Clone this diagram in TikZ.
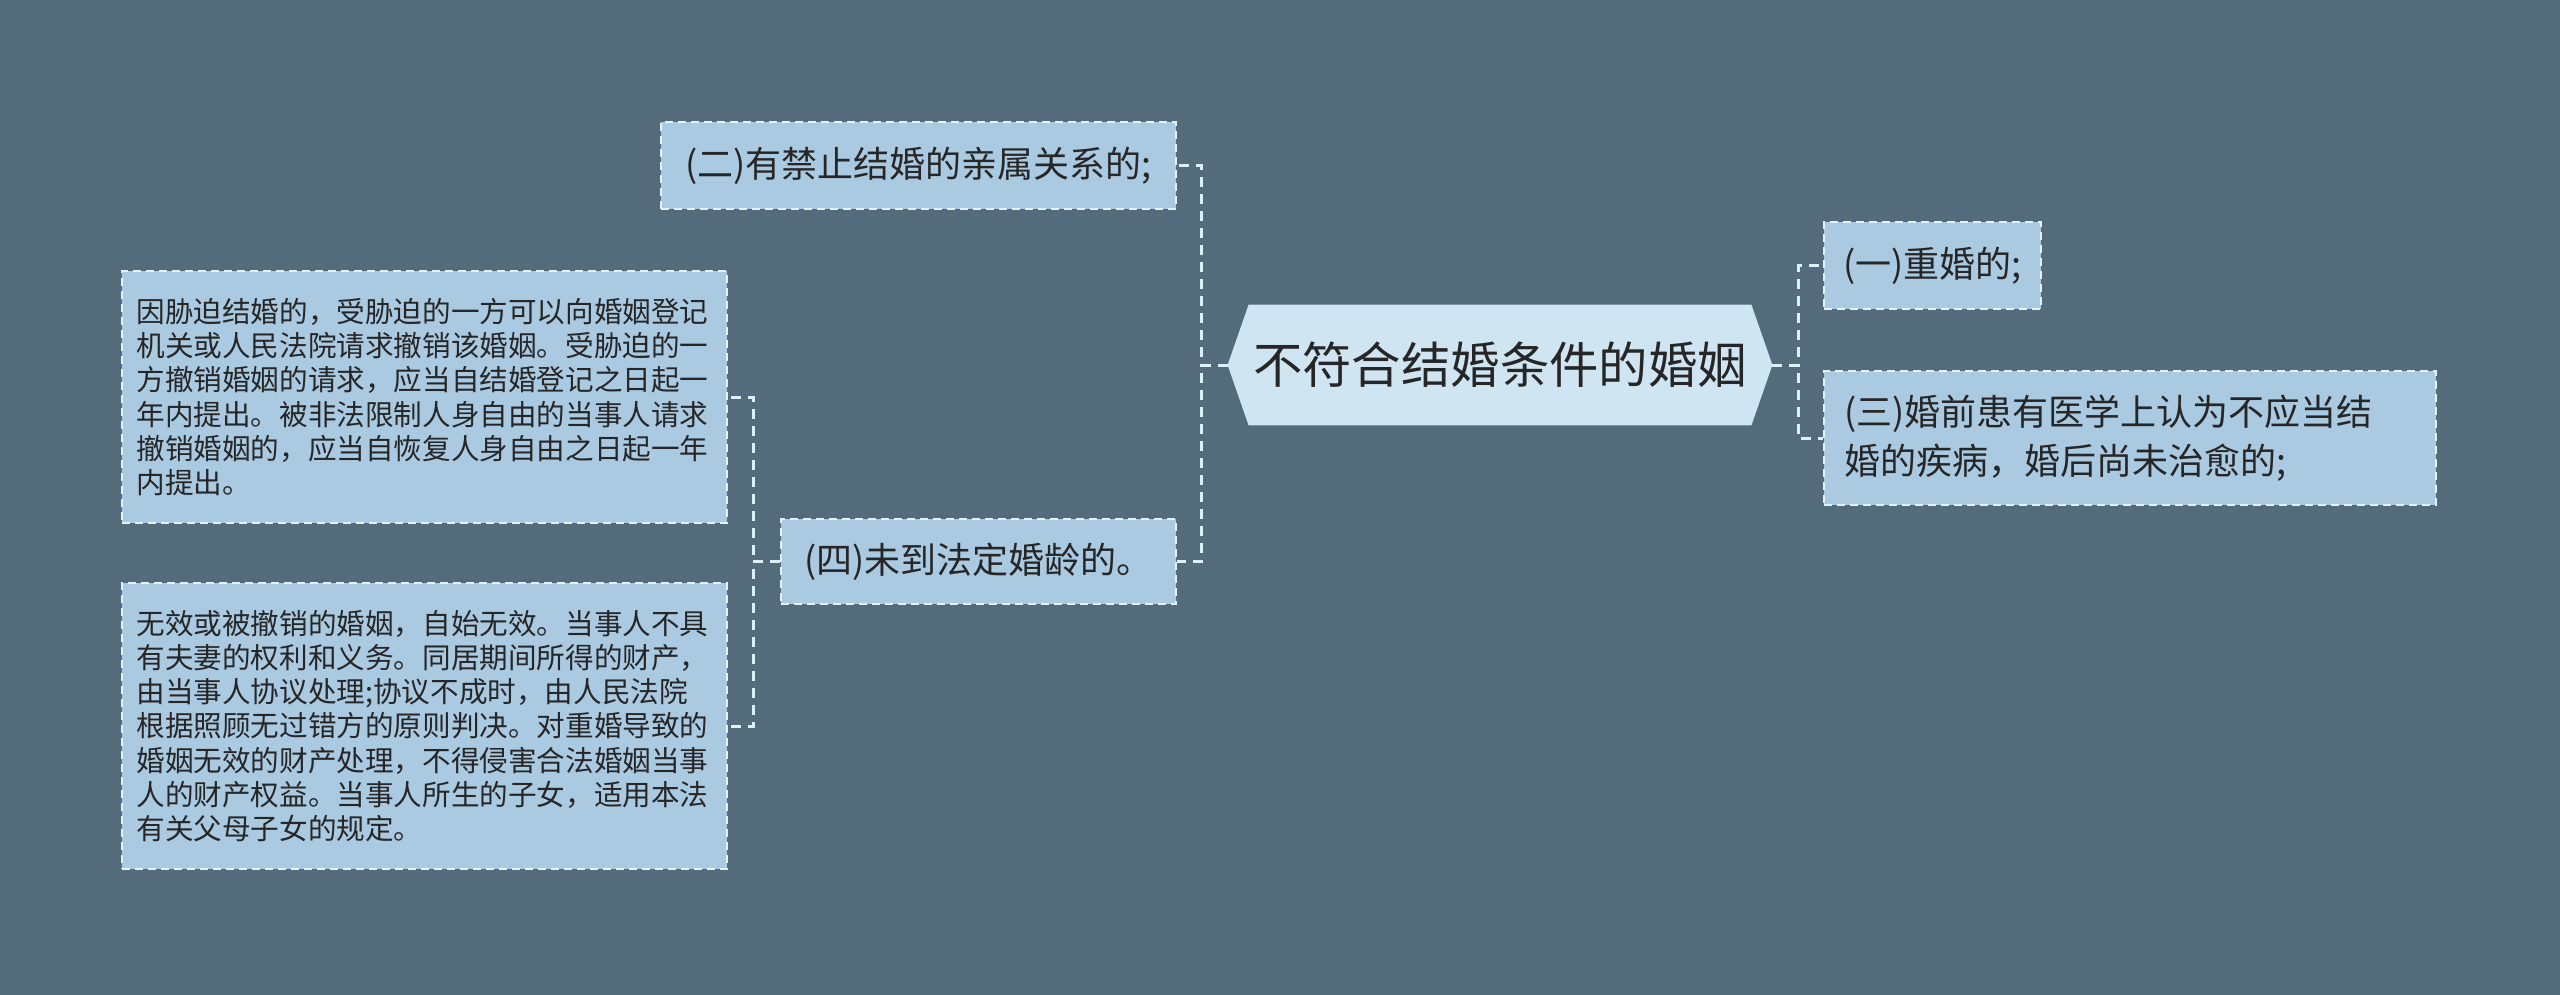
\documentclass[tikz,border=0pt]{standalone}
\usepackage{fontspec}
\setmainfont{Noto Sans CJK SC}
\usetikzlibrary{backgrounds}
\definecolor{bgcol}{HTML}{546B7C}
\definecolor{boxfill}{HTML}{AACAE1}
\definecolor{bordercol}{HTML}{E2F2FB}
\definecolor{conncol}{HTML}{DDEFF9}
\definecolor{rootfill}{HTML}{CFE6F2}
\definecolor{textcol}{HTML}{262626}
\begin{document}
\begin{tikzpicture}[x=0.5pt,y=-0.5pt,
  box/.style={draw=bordercol, fill=boxfill, dash pattern=on 4pt off 2.5pt, line width=1pt, text=textcol, inner sep=0pt},
  midtext/.style={font=\fontsize{18}{24.5}\selectfont},
  smalltext/.style={font=\fontsize{14.3}{17.15}\selectfont, align=left, text width=288pt, inner xsep=7.25pt, inner ysep=0pt},
  rootnode/.style={text=textcol, inner sep=0pt, minimum width=272pt, minimum height=60pt, font=\fontsize{24.7}{30}\selectfont},
  conn/.style={draw=conncol, line width=1.5pt, dash pattern=on 5pt off 3.5pt}]
\useasboundingbox (0,0) rectangle (2560,995);

\node[rootnode] (root) at (1500,365) {不符合结婚条件的婚姻};
\begin{scope}[on background layer]
  \fill[bgcol] (0,0) rectangle (2560,995);
  \fill[rootfill] (root.west) -- ([xshift=10.5pt]root.north west) -- ([xshift=-10.5pt]root.north east) -- (root.east) -- ([xshift=-10.5pt]root.south east) -- ([xshift=10.5pt]root.south west) -- cycle;
\end{scope}

\node[box, midtext, minimum width=257.5pt, minimum height=43.5pt] (n2) at (918.5,165.5) {(二)有禁止结婚的亲属关系的;};
\node[box, midtext, minimum width=197.5pt, minimum height=42.5pt] (n4) at (978.5,561.5) {(四)未到法定婚龄的。};
\node[box, midtext, minimum width=108.5pt, minimum height=43.5pt] (n1) at (1932.5,265.5) {(一)重婚的;};
\node[box, midtext, align=left, text width=286pt, inner xsep=10pt, minimum height=67pt] (n3) at (2130,438) {(三)婚前患有医学上认为不应当结\\婚的疾病，婚后尚未治愈的;};

\node[box, smalltext, minimum height=126pt] (nA) at (424.5,397) {因胁迫结婚的，受胁迫的一方可以向婚姻登记\\机关或人民法院请求撤销该婚姻。受胁迫的一\\方撤销婚姻的请求，应当自结婚登记之日起一\\年内提出。被非法限制人身自由的当事人请求\\撤销婚姻的，应当自恢复人身自由之日起一年\\内提出。};
\node[box, smalltext, minimum height=143pt] (nB) at (424.5,726) {无效或被撤销的婚姻，自始无效。当事人不具\\有夫妻的权利和义务。同居期间所得的财产，\\由当事人协议处理;协议不成时，由人民法院\\根据照顾无过错方的原则判决。对重婚导致的\\婚姻无效的财产处理，不得侵害合法婚姻当事\\人的财产权益。当事人所生的子女，适用本法\\有关父母子女的规定。};

\draw[conn] (root.west) -- ++(-26,0) |- (n2.east);
\draw[conn] (root.west) -- ++(-26,0) |- (n4.east);
\draw[conn] (n4.west) -- ++(-27,0) |- (nA.east);
\draw[conn] (n4.west) -- ++(-27,0) |- (nB.east);
\draw[conn] (root.east) -- ++(26,0) |- (n1.west);
\draw[conn] (root.east) -- ++(26,0) |- (n3.west);
\end{tikzpicture}
\end{document}
